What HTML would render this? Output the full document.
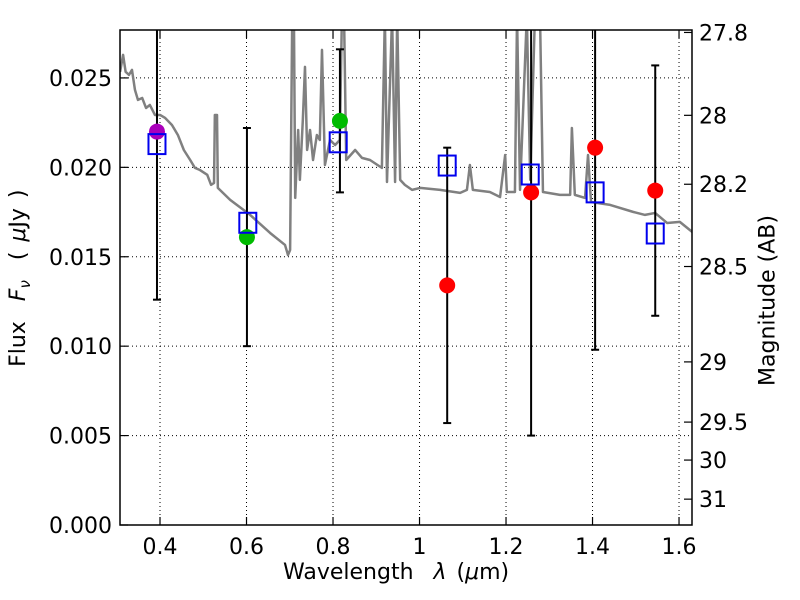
<!DOCTYPE html>
<html><head><meta charset="utf-8"><style>
html,body{margin:0;padding:0;background:#fff;}
svg{display:block;font-family:"DejaVu Sans","Liberation Sans",sans-serif;}
</style></head><body>
<svg id="chart" width="800" height="600"></svg>
<script>
const specLam=[0.3077,0.3146,0.3205,0.3283,0.3352,0.3421,0.3490,0.3588,0.3677,0.3765,0.3883,0.4001,0.4119,0.4276,0.4413,0.4551,0.4698,0.4807,0.4924,0.5092,0.5180,0.5249,0.5268,0.5318,0.5337,0.5622,0.6084,0.6546,0.6890,0.6959,0.7008,0.7057,0.7096,0.7126,0.7194,0.7234,0.7302,0.7352,0.7401,0.7469,0.7538,0.7627,0.7695,0.7745,0.7813,0.7931,0.8049,0.8157,0.8206,0.8255,0.8305,0.8511,0.8668,0.8855,0.9130,0.9199,0.9248,0.9366,0.9435,0.9484,0.9553,0.9661,0.9828,1.0015,1.0477,1.0939,1.1096,1.1165,1.1233,1.1626,1.1862,1.1980,1.2019,1.2206,1.2255,1.2324,1.2481,1.2560,1.2668,1.2786,1.2854,1.3247,1.3483,1.3523,1.3591,1.3827,1.3896,1.3965,1.4407,1.4937,1.5213,1.5448,1.5723,1.6018,1.6303];
const specFlux=[0.02534,0.02629,0.02534,0.02517,0.02545,0.02433,0.02377,0.02388,0.02332,0.02349,0.02293,0.02293,0.02276,0.02237,0.02181,0.02097,0.02041,0.01997,0.01985,0.01958,0.01902,0.01913,0.02293,0.02293,0.01885,0.01818,0.01734,0.01633,0.01566,0.01510,0.01538,0.0285,0.0285,0.01829,0.02209,0.01930,0.02265,0.02562,0.02097,0.02209,0.02041,0.02181,0.02153,0.02657,0.02013,0.02153,0.02125,0.02153,0.0285,0.0285,0.02041,0.02097,0.02053,0.02041,0.01997,0.0285,0.01918,0.0285,0.01918,0.0285,0.01930,0.01902,0.01874,0.01885,0.01874,0.01857,0.01874,0.02013,0.01874,0.01862,0.01834,0.02069,0.01862,0.01862,0.0285,0.01874,0.0285,0.01930,0.0285,0.0285,0.01862,0.01846,0.01846,0.02220,0.01846,0.01829,0.02069,0.01806,0.01790,0.01751,0.01734,0.01745,0.01689,0.01695,0.01639];
const obsLam=[0.393,0.601,0.816,1.064,1.258,1.406,1.545];
const obsFlux=[0.0220,0.0161,0.0226,0.0134,0.0186,0.0211,0.0187];
const obsErr=[0.0094,0.0061,0.0040,0.0077,0.0136,0.0113,0.0070];
const obsColor=['#aa00bb','#00bb00','#00bb00','#ff0000','#ff0000','#ff0000','#ff0000'];
const modelLam=[0.393,0.603,0.812,1.064,1.256,1.406,1.545];
const modelFlux=[0.0213,0.0169,0.0214,0.0201,0.0196,0.0186,0.0163];
const xTicks=[0.4,0.6,0.8,1.0,1.2,1.4,1.6];
const xTickLabels=['0.4','0.6','0.8','1','1.2','1.4','1.6'];
const yTicks=[0,0.005,0.010,0.015,0.020,0.025];
const yTickLabels=['0.000','0.005','0.010','0.015','0.020','0.025'];
const magTicks=[27.8,28,28.2,28.5,29,29.5,30,31];
const magTickLabels=['27.8','28','28.2','28.5','29','29.5','30','31'];

const L=120,R=692,T=30,B=525,X0=0.3075,X1=1.630,Y0=0,Y1=0.02768;
const xs=v=>L+(v-X0)/(X1-X0)*(R-L);
const ys=v=>B-(v-Y0)/(Y1-Y0)*(B-T);
const magToFlux=m=>Math.pow(10,(23.9-m)/2.5);
const svg=document.getElementById('chart');
const NS='http://www.w3.org/2000/svg';
function mk(tag,attrs,parent){const e=document.createElementNS(NS,tag);for(const k in attrs)e.setAttribute(k,attrs[k]);(parent||svg).appendChild(e);return e;}

const defs=mk('defs',{});
const cp=mk('clipPath',{id:'clip'},defs);
mk('rect',{x:L,y:T,width:R-L,height:B-T},cp);

const grid=mk('g',{stroke:'#000','stroke-width':1,'stroke-dasharray':'1,3'});


xTicks.forEach(t=>mk('line',{x1:xs(t),x2:xs(t),y1:T,y2:B},grid));
yTicks.forEach(t=>mk('line',{x1:L,x2:R,y1:ys(t),y2:ys(t)},grid));

const plot=mk('g',{'clip-path':'url(#clip)'});


const sp=mk('polyline',{points:specLam.map((l,i)=>xs(l)+','+ys(specFlux[i])).join(' '),fill:'none',stroke:'#808080','stroke-width':2.5,'stroke-linejoin':'round'},plot);


obsLam.forEach((l,i)=>{
  const g=mk('g',{stroke:'#000','stroke-width':2},plot);
  
  
  const x=xs(l),y1=ys(obsFlux[i]+obsErr[i]),y2=ys(obsFlux[i]-obsErr[i]);
  mk('line',{x1:x,x2:x,y1:y1,y2:y2},g);
  mk('line',{x1:x-4,x2:x+4,y1:y1,y2:y1},g);
  mk('line',{x1:x-4,x2:x+4,y1:y2,y2:y2},g);
});
obsLam.forEach((l,i)=>{
  const c=mk('circle',{cx:xs(l),cy:ys(obsFlux[i]),r:8,fill:obsColor[i]},plot);
  
  
});
modelLam.forEach((l,i)=>{
  const s=mk('rect',{x:xs(l)-8.5,y:ys(modelFlux[i])-10,width:17,height:20,fill:'none',stroke:'#0000ee','stroke-width':2},plot);
  
  
});

const fr=mk('rect',{x:L,y:T,width:R-L,height:B-T,fill:'none',stroke:'#000','stroke-width':1.5});



const ax=mk('g',{stroke:'#000','stroke-width':1.2});
xTicks.forEach((t,i)=>{
  mk('line',{x1:xs(t),x2:xs(t),y1:B,y2:B-8},ax);
  mk('line',{x1:xs(t),x2:xs(t),y1:T,y2:T+8},ax);
  const tx=mk('text',{x:xs(t),y:554,'text-anchor':'middle','font-size':22,fill:'#000',stroke:'none'});
  tx.textContent=xTickLabels[i];
  
  
});
yTicks.forEach((t,i)=>{
  mk('line',{x1:L,x2:L+8,y1:ys(t),y2:ys(t)},ax);
  const tx=mk('text',{x:112,y:ys(t)+8,'text-anchor':'end','font-size':22,fill:'#000',stroke:'none'});
  tx.textContent=yTickLabels[i];
  
  
});
magTicks.forEach((m,i)=>{
  const y=ys(magToFlux(m));
  mk('line',{x1:R,x2:R-8,y1:y,y2:y},ax);
  const tx=mk('text',{x:699,y:y+8,'text-anchor':'start','font-size':22,fill:'#000',stroke:'none'});
  tx.textContent=magTickLabels[i];
  
  
});
</script>
<div style="position:absolute;left:0;top:0;width:800px;height:600px;pointer-events:none;font-family:'DejaVu Sans','Liberation Sans',sans-serif;">
  <div style="position:absolute;left:283px;top:560px;font-size:22px;white-space:nowrap;word-spacing:3px;">Wavelength&nbsp;&nbsp;<i>λ</i> (<i>μ</i>m)</div>
  <div style="position:absolute;left:-90px;top:264px;width:220px;text-align:center;font-size:22px;white-space:nowrap;word-spacing:3px;transform:rotate(-90deg);">Flux&nbsp; <i>F<sub style="font-size:15px">ν</sub></i>&nbsp; ( <i>μ</i>Jy )</div>
  <div style="position:absolute;left:668px;top:288px;width:200px;text-align:center;font-size:22px;white-space:nowrap;transform:rotate(-90deg);">Magnitude (AB)</div>
</div>
</body></html>
